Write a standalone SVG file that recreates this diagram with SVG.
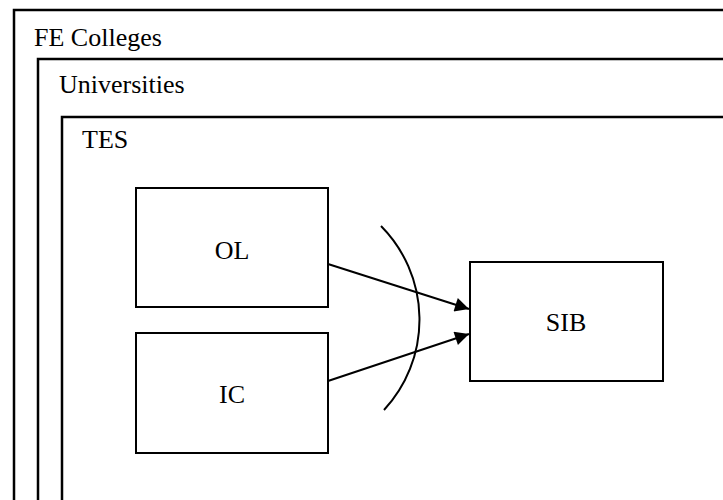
<svg xmlns="http://www.w3.org/2000/svg" width="723" height="500" viewBox="0 0 723 500">
  <style>
    .frame { fill: none; stroke: #000; stroke-width: 2.5; }
    .box { fill: #fff; stroke: #000; stroke-width: 2; }
    .lbl { font-family: 'Liberation Serif', 'DejaVu Serif', serif; font-size: 26px; fill: #000; }
    .edge { fill: none; stroke: #000; stroke-width: 2; }
  </style>
  <defs>
    <marker id="arrow" viewBox="0 0 10 10" refX="10" refY="5" markerWidth="9" markerHeight="7" markerUnits="strokeWidth" orient="auto">
      <path d="M0 0 L10 5 L0 10 Z" fill="#000"/>
    </marker>
  </defs>
  <rect width="723" height="500" fill="#fff"/>

  <g id="fe-colleges">
    <rect class="frame" x="14" y="10" width="760" height="560"/>
    <text class="lbl" font-family="Liberation Serif, serif" x="34" y="46">FE Colleges</text>
  </g>
  <g id="universities">
    <rect class="frame" x="38" y="59" width="760" height="560"/>
    <text class="lbl" font-family="Liberation Serif, serif" x="59" y="93">Universities</text>
  </g>
  <g id="tes">
    <rect class="frame" x="62" y="117" width="760" height="560"/>
    <text class="lbl" font-family="Liberation Serif, serif" x="82" y="148">TES</text>
  </g>

  <g id="ol">
    <rect class="box" x="136" y="188" width="192" height="119"/>
    <text class="lbl" font-family="Liberation Serif, serif" x="232" y="259" text-anchor="middle">OL</text>
  </g>
  <g id="ic">
    <rect class="box" x="136" y="333" width="192" height="120"/>
    <text class="lbl" font-family="Liberation Serif, serif" x="232" y="403" text-anchor="middle">IC</text>
  </g>
  <g id="sib">
    <rect class="box" x="470" y="262" width="193" height="119"/>
    <text class="lbl" font-family="Liberation Serif, serif" x="566" y="331" text-anchor="middle">SIB</text>
  </g>

  <g id="connectors">
    <path class="edge" d="M381 226 A133 133 0 0 1 384 410"/>
    <line class="edge" x1="328" y1="264" x2="469" y2="309" marker-end="url(#arrow)"/>
    <line class="edge" x1="328" y1="381" x2="469" y2="334" marker-end="url(#arrow)"/>
  </g>
</svg>
